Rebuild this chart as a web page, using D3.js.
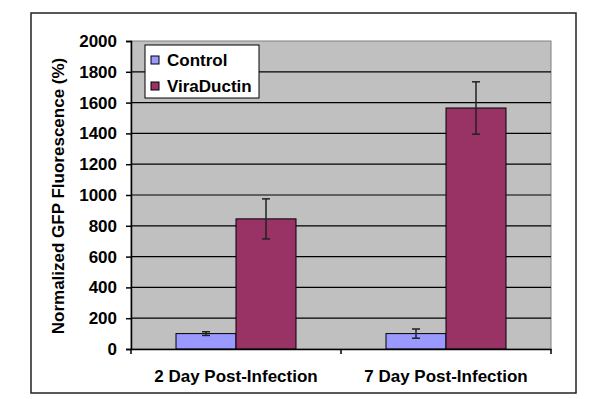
<!DOCTYPE html>
<html>
<head>
<meta charset="utf-8">
<script src="https://cdn.jsdelivr.net/npm/d3@7"></script>
<style>
  body { margin: 0; background: #fff; }
  text { font-family: "Liberation Sans", Arial, sans-serif; font-weight: bold; }
</style>
</head>
<body>
<script>
var categories = ["2 Day Post-Infection", "7 Day Post-Infection"];
var seriesNames = ["Control", "ViraDuctin"];
var controlValues = [100, 100];
var controlErrors = [12, 30];
var viraValues = [845, 1565];
var viraErrors = [130, 170];
var yTicks = [0, 200, 400, 600, 800, 1000, 1200, 1400, 1600, 1800, 2000];

var colors = ["#9999ff", "#993366"];

var width = 600, height = 399;
var plot = { left: 131, right: 551, top: 41, bottom: 349 };
var fontSize = "17px";

var svg = d3.select("body").append("svg")
  .attr("width", width)
  .attr("height", height);

// outer chart frame
svg.append("rect")
  .attr("x", 31).attr("y", 13)
  .attr("width", 545).attr("height", 380)
  .attr("fill", "#fff")
  .attr("stroke", "#222")
  .attr("stroke-width", 1.5);

var y = d3.scaleLinear().domain([0, 2000]).range([plot.bottom, plot.top]);
var x = d3.scaleBand().domain(categories).range([plot.left, plot.right]).paddingInner(0).paddingOuter(0);
// two bars fill 120 of each 210 px band (gap width 150%)
var barW = x.bandwidth() * 2 / 7;

svg.append("rect")
  .attr("x", plot.left).attr("y", plot.top)
  .attr("width", plot.right - plot.left).attr("height", plot.bottom - plot.top)
  .attr("fill", "#c0c0c0")
  .attr("stroke", "#808080")
  .attr("stroke-width", 1);

// gridlines
svg.selectAll(".grid")
  .data(yTicks.filter(function(d) { return d > 0 && d < 2000; }))
  .enter().append("line")
  .attr("x1", plot.left).attr("x2", plot.right)
  .attr("y1", function(d) { return y(d); })
  .attr("y2", function(d) { return y(d); })
  .attr("stroke", "#000")
  .attr("stroke-width", 1.2);

var series = [
  { name: seriesNames[0], values: controlValues, errors: controlErrors, color: colors[0] },
  { name: seriesNames[1], values: viraValues, errors: viraErrors, color: colors[1] }
];

series.forEach(function(s, si) {
  var g = svg.append("g");
  g.selectAll("rect")
    .data(categories)
    .enter().append("rect")
    .attr("x", function(c) { return x(c) + x.bandwidth() / 2 - barW + si * barW; })
    .attr("y", function(c, i) { return y(s.values[i]); })
    .attr("width", barW)
    .attr("height", function(c, i) { return y(0) - y(s.values[i]); })
    .attr("fill", s.color)
    .attr("stroke", "#000")
    .attr("stroke-width", 1);

  categories.forEach(function(c, i) {
    var cx = x(c) + x.bandwidth() / 2 - barW / 2 + si * barW;
    var hi = y(s.values[i] + s.errors[i]), lo = y(s.values[i] - s.errors[i]);
    g.append("line").attr("x1", cx).attr("x2", cx).attr("y1", hi).attr("y2", lo)
      .attr("stroke", "#222").attr("stroke-width", 1.5);
    [hi, lo].forEach(function(v) {
      g.append("line").attr("x1", cx - 4).attr("x2", cx + 4).attr("y1", v).attr("y2", v)
        .attr("stroke", "#222").attr("stroke-width", 1.5);
    });
  });
});

// y axis
var yAxis = d3.axisLeft(y).tickValues(yTicks).tickFormat(d3.format("d")).tickSize(5).tickPadding(9);
var yg = svg.append("g")
  .attr("transform", "translate(" + plot.left + ",0)")
  .call(yAxis);
yg.select(".domain").attr("stroke", "#000").attr("stroke-width", 1.5);
yg.selectAll(".tick line").attr("stroke", "#000").attr("stroke-width", 1.5);
yg.selectAll(".tick text")
  .attr("fill", "#000")
  .style("font-size", fontSize)
  .style("font-weight", "bold")
  .style("font-family", "'Liberation Sans', Arial, sans-serif");

// x axis
var xAxis = d3.axisBottom(x).tickSize(0).tickFormat("");
var xg = svg.append("g")
  .attr("transform", "translate(0," + plot.bottom + ")")
  .call(xAxis);
xg.select(".domain").attr("stroke", "#000").attr("stroke-width", 1.5);
xg.selectAll(".tick").remove();
var bounds = [plot.left, plot.left + x.bandwidth(), plot.right];
xg.selectAll(".sep")
  .data(bounds)
  .enter().append("line")
  .attr("x1", function(d) { return d; }).attr("x2", function(d) { return d; })
  .attr("y1", 0).attr("y2", 5)
  .attr("stroke", "#000").attr("stroke-width", 1.5);

svg.selectAll(".xlabel")
  .data(categories)
  .enter().append("text")
  .attr("x", function(d) { return x(d) + x.bandwidth() / 2; })
  .attr("y", 382)
  .attr("text-anchor", "middle")
  .style("font-size", fontSize)
  .text(function(d) { return d; });

// y axis title
svg.append("text")
  .attr("transform", "translate(64,196) rotate(-90)")
  .attr("text-anchor", "middle")
  .style("font-size", fontSize)
  .text("Normalized GFP Fluorescence (%)");

// legend
var legend = svg.append("g").attr("transform", "translate(145,45)");
legend.append("rect")
  .attr("width", 114).attr("height", 53)
  .attr("fill", "#fff").attr("stroke", "#000").attr("stroke-width", 1);
series.forEach(function(s, i) {
  var ly = 15 + i * 26;
  legend.append("rect")
    .attr("x", 6).attr("y", ly - 4).attr("width", 8).attr("height", 8)
    .attr("fill", s.color).attr("stroke", "#000").attr("stroke-width", 1);
  legend.append("text")
    .attr("x", 22).attr("y", ly + 6)
    .style("font-size", fontSize)
    .text(s.name);
});
</script>
</body>
</html>
